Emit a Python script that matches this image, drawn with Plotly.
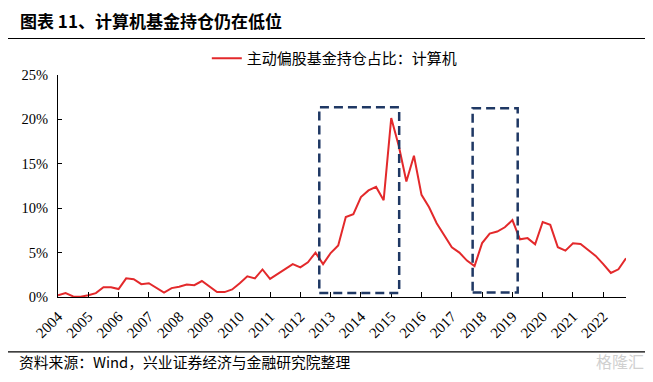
import plotly.graph_objects as go

# Quarterly data, 2004Q1 .. 2022Q4 (percent)
values = [0.19, 0.44, 0.07, 0.03, 0.2, 0.44, 1.1, 1.1, 0.9, 2.1,
          2.0, 1.45, 1.55, 1.05, 0.5, 1.0, 1.15, 1.4, 1.33, 1.8,
          1.2, 0.55, 0.55, 0.85, 1.55, 2.33, 2.1, 3.1, 2.05, 2.6,
          3.2, 3.7, 3.33, 3.9, 5.0, 3.7, 4.95, 5.8, 9.0, 9.33,
          11.25, 12.0, 12.4, 10.9, 20.15, 17.0, 13.0, 15.9, 11.5, 10.1,
          8.3, 6.9, 5.6, 5.0, 4.1, 3.48, 6.07, 7.15, 7.37, 7.85,
          8.66, 6.5, 6.63, 5.93, 8.44, 8.13, 5.6, 5.22, 6.04, 5.96,
          5.26, 4.63, 3.7, 2.7, 3.12, 4.37]
x_index = list(range(len(values)))
year_labels = [str(y) for y in range(2004, 2023)]
year_ticks = [4 * k for k in range(len(year_labels))]
y_ticks = [0, 5, 10, 15, 20, 25]
y_labels = ["0%", "5%", "10%", "15%", "20%", "25%"]
series_name = "主动偏股基金持仓占比：计算机"
title_text = "图表 11、计算机基金持仓仍在低位"
source_text = "资料来源：Wind，兴业证券经济与金融研究院整理"
# highlight boxes: (x0, x1, y0, y1) in data units
box_x0 = [34.5, 54.75]
box_x1 = [45.05, 60.7]
box_y0 = [0.44, 0.5]
box_y1 = [21.37, 21.26]

serif = "Liberation Serif, Times New Roman, serif"
cjk = "Noto Sans CJK SC, sans-serif"

fig = go.Figure()
fig.add_trace(go.Scatter(
    x=x_index, y=values, mode="lines", name=series_name,
    line=dict(color="#E3292B", width=2),
))

for a, b, c, d in zip(box_x0, box_x1, box_y0, box_y1):
    fig.add_shape(type="rect", xref="x", yref="y", x0=a, x1=b, y0=c, y1=d,
                  line=dict(color="#1F3864", width=2.5, dash="9px,5px"),
                  fillcolor="rgba(0,0,0,0)")

# title rule and footer rule
fig.add_shape(type="line", xref="paper", yref="paper",
              x0=-0.09, x1=1.035, y0=1.1644, y1=1.1644,
              line=dict(color="black", width=1.2))
fig.add_shape(type="line", xref="paper", yref="paper",
              x0=-0.09, x1=1.035, y0=-0.2476, y1=-0.2476,
              line=dict(color="black", width=1.2))

fig.add_annotation(text="<b>" + title_text + "</b>", xref="paper", yref="paper",
                   x=-0.0704, y=1.245, xanchor="left", yanchor="middle",
                   showarrow=False, font=dict(family=cjk, size=17, color="black"))
fig.add_annotation(text=source_text, xref="paper", yref="paper",
                   x=-0.072, y=-0.289, xanchor="left", yanchor="middle",
                   showarrow=False, font=dict(family=cjk, size=14.8, color="black"))
fig.add_annotation(text="格隆汇", xref="paper", yref="paper",
                   x=1.035, y=-0.289, xanchor="right", yanchor="middle",
                   showarrow=False, font=dict(family=cjk, size=16, color="#d0d0d0"))

fig.update_layout(
    width=645, height=374,
    margin=dict(l=50, r=27, t=64, b=85),
    paper_bgcolor="white", plot_bgcolor="white",
    showlegend=True,
    legend=dict(x=0.262, y=1 - 50.5 / 374, xref="paper", yref="container",
                xanchor="left", yanchor="middle",
                orientation="h", font=dict(family=cjk, size=15, color="black"),
                bgcolor="rgba(0,0,0,0)", itemwidth=30),
    xaxis=dict(range=[0, 75], tickmode="array", tickvals=year_ticks, ticktext=year_labels,
               tickangle=-45, showline=True, linecolor="black", linewidth=1,
               ticks="inside", ticklen=5, tickcolor="black", showgrid=False,
               zeroline=False, automargin=False, ticklabelstandoff=4,
               tickfont=dict(family=serif, size=15, color="black")),
    yaxis=dict(range=[0, 25], tickmode="array", tickvals=y_ticks, ticktext=y_labels,
               showline=True, linecolor="black", linewidth=1,
               ticks="inside", ticklen=4, tickcolor="black", showgrid=False,
               zeroline=False, automargin=False, ticklabelstandoff=6,
               tickfont=dict(family=serif, size=14.5, color="black")),
)

fig.write_html("out.html")
